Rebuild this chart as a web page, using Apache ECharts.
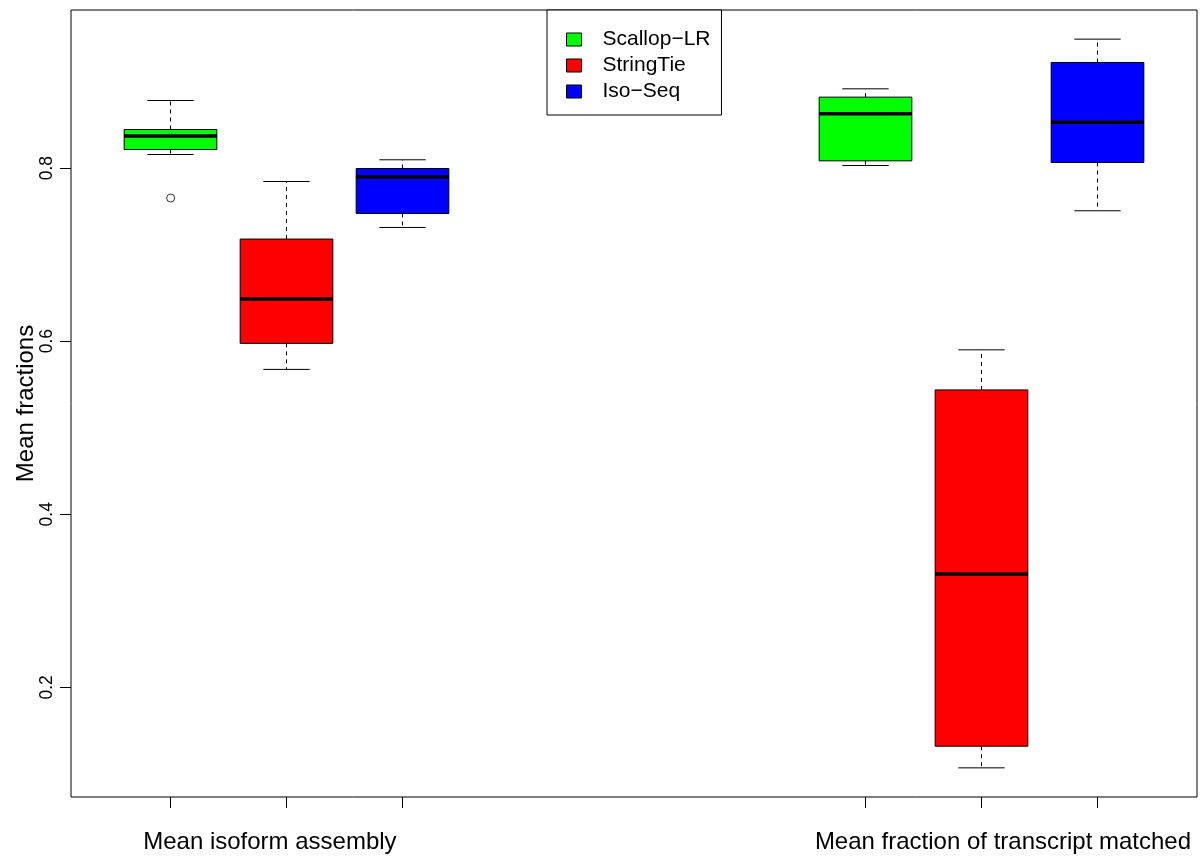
<!DOCTYPE html>
<html><head><meta charset="utf-8">
<script src="https://cdn.jsdelivr.net/npm/echarts@6/dist/echarts.min.js"></script>
<style>html,body{margin:0;padding:0;background:#fff}#chart{width:1202px;height:857px}</style>
</head><body><div id="chart"></div>
<script>
// ---- data ----
const groups = ['Mean isoform assembly', 'Mean fraction of transcript matched'];
const methods = ['Scallop−LR', 'StringTie', 'Iso−Seq'];
// five-number summaries per group: [lower whisker, Q1, median, Q3, upper whisker]
const scallopLR = [[0.8157, 0.8215, 0.8370, 0.8446, 0.8781], [0.8030, 0.8084, 0.8627, 0.8820, 0.8916]];
const stringTie = [[0.5674, 0.5975, 0.6487, 0.7180, 0.7845], [0.1070, 0.1320, 0.3310, 0.5437, 0.5900]];
const isoSeq    = [[0.7314, 0.7476, 0.7896, 0.7995, 0.8096], [0.7507, 0.8065, 0.8531, 0.9220, 0.9490]];
const scallopLROutliers = [[0.7654], []];
const stringTieOutliers = [[], []];
const isoSeqOutliers = [[], []];
const yTicks = [0.2, 0.4, 0.6, 0.8];

// ---- build ----
const stats = [scallopLR, stringTie, isoSeq];
const outl = [scallopLROutliers, stringTieOutliers, isoSeqOutliers];
const colors = ['#00ff00', '#ff0000', '#0000ff'];
const slot = (gi, m) => gi * (methods.length + 3) + m + 1;   // R boxplot 'at' positions 1,2,3,7,8,9
const slots = [];
groups.forEach((g, gi) => methods.forEach((n, m) => slots.push(slot(gi, m))));

let all = [];
stats.forEach(s => s.forEach(r => all = all.concat(r)));
outl.forEach(o => o.forEach(r => all = all.concat(r)));
const dmin = Math.min(...all), dmax = Math.max(...all);
const ext = (dmax - dmin) * 0.04;
const xmin = Math.min(...slots) - 0.5, xmax = Math.max(...slots) + 0.5;
const xext = (xmax - xmin) * 0.04;

function renderBox(params, api) {
  const x = api.value(0);
  const lo = api.coord([x, api.value(1)]);
  const q1 = api.coord([x, api.value(2)]);
  const md = api.coord([x, api.value(3)]);
  const q3 = api.coord([x, api.value(4)]);
  const hi = api.coord([x, api.value(5)]);
  const half = api.size([0.8, 0])[0] / 2;
  const hs = half / 2;
  const cx = Math.round(lo[0] - 0.5) + 0.5;
  const color = api.visual('color');
  const ln = (x1, y1, x2, y2, w, dash) => ({
    type: 'line', shape: { x1, y1, x2, y2 },
    style: { stroke: '#000', lineWidth: w, lineDash: dash || null }
  });
  return {
    type: 'group',
    children: [
      ln(cx, q3[1], cx, hi[1], 1, [4, 4]),
      ln(cx, q1[1], cx, lo[1], 1, [4, 4]),
      ln(cx - hs, hi[1], cx + hs, hi[1], 1),
      ln(cx - hs, lo[1], cx + hs, lo[1], 1),
      { type: 'rect', shape: { x: cx - half, y: q3[1], width: 2 * half, height: q1[1] - q3[1] },
        style: { fill: color, stroke: '#000', lineWidth: 1 } },
      ln(cx - half, md[1], cx + half, md[1], 3.5)
    ]
  };
}

const series = methods.map((name, m) => ({
  type: 'custom', name, renderItem: renderBox, silent: true,
  itemStyle: { color: colors[m] },
  encode: { x: 0, y: [1, 2, 3, 4, 5] },
  data: groups.map((g, gi) => [slot(gi, m)].concat(stats[m][gi]))
}));
const outData = [];
outl.forEach((o, m) => o.forEach((vals, gi) => vals.forEach(v => outData.push([slot(gi, m), v]))));
series.push({
  type: 'scatter', silent: true, symbol: 'circle', symbolSize: 8, data: outData,
  itemStyle: { color: 'rgba(0,0,0,0)', borderColor: '#000', borderWidth: 1 }, z: 3
});

const font = 'Liberation Sans';
const chart = echarts.init(document.getElementById('chart'), null, { renderer: 'canvas' });
chart.setOption({
  animation: false,
  backgroundColor: '#fff',
  grid: { left: 71, right: 5, top: 10, bottom: 60, show: true, borderColor: '#000', borderWidth: 1,
    backgroundColor: 'transparent', containLabel: false, outerBoundsMode: 'none' },
  legend: {
    data: methods, left: 547, top: 10, orient: 'vertical', icon: 'rect',
    itemWidth: 15, itemHeight: 13, itemGap: 5, padding: [19, 11, 13, 19],
    borderColor: '#000', borderWidth: 1, backgroundColor: '#fff', selectedMode: false,
    itemStyle: { borderColor: '#000', borderWidth: 1 },
    textStyle: { fontFamily: font, fontSize: 21, color: '#000', padding: [0, 0, 0, 16] }
  },
  xAxis: {
    type: 'value', min: xmin - xext, max: xmax + xext,
    splitLine: { show: false }, axisLine: { show: false },
    axisTick: { show: true, customValues: slots, length: 11, lineStyle: { color: '#000', width: 1 } },
    axisLabel: {
      customValues: [1.857, 8.185],
      formatter: v => (v < 5 ? groups[0] : groups[1]),
      margin: 33, fontSize: 24, fontFamily: font, color: '#000'
    }
  },
  yAxis: {
    type: 'value', min: dmin - ext, max: dmax + ext,
    splitLine: { show: false }, axisLine: { show: false },
    axisTick: { show: true, customValues: yTicks, length: 11, lineStyle: { color: '#000', width: 1 } },
    axisLabel: { customValues: yTicks, rotate: 90, formatter: v => v.toFixed(1), margin: 15,
      fontSize: 17.5, fontFamily: font, color: '#000' },
    name: 'Mean fractions', nameLocation: 'middle', nameGap: 33, nameMoveOverlap: false,
    nameTextStyle: { fontFamily: font, fontSize: 24, color: '#000' }
  },
  series
});
</script></body></html>
